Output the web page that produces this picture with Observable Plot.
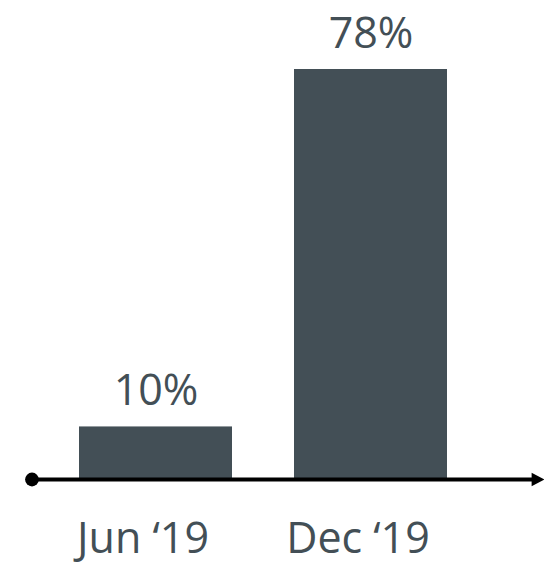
<!DOCTYPE html>
<html>
<head>
<meta charset="utf-8">
<script src="https://cdn.jsdelivr.net/npm/d3@7"></script>
<script src="https://cdn.jsdelivr.net/npm/@observablehq/plot@0.6"></script>
<style>
  html, body { margin: 0; padding: 0; background: #fff; }
  #chart svg { display: block; overflow: visible; }
</style>
</head>
<body>
<div id="chart"></div>
<script>
const periods = ["Jun \u201819", "Dec \u201819"];
const shares = [10, 78];
const labels = ["10%", "78%"];

const data = periods.map((p, i) => ({period: p, value: shares[i], label: labels[i]}));

const ink = "#434f56";

function arrowHead(color) {
  const m = d3.create("svg:marker")
    .attr("viewBox", "-5 -5 10 10")
    .attr("markerWidth", 4)
    .attr("markerHeight", 4)
    .attr("refX", 1)
    .attr("orient", "auto")
    .attr("fill", color)
    .attr("stroke", "none");
  m.append("path").attr("d", "M-3,-4.2L5,0L-3,4.2Z");
  return m.node();
}

function startDot(color) {
  const m = d3.create("svg:marker")
    .attr("viewBox", "-5 -5 10 10")
    .attr("markerWidth", 4)
    .attr("markerHeight", 4)
    .attr("orient", "auto")
    .attr("fill", color)
    .attr("stroke", "none");
  m.append("circle").attr("r", 4.3);
  return m.node();
}

const chart = Plot.plot({
  width: 547,
  height: 566,
  marginTop: 69,
  marginBottom: 87,
  marginLeft: 32,
  marginRight: 9,
  style: {fontFamily: "'Open Sans', sans-serif", background: "#fff", overflow: "visible"},
  x: {domain: periods, range: [78, 448], paddingInner: 0.287, paddingOuter: 0},
  y: {domain: [0, 78], axis: null},
  marks: [
    Plot.barY(data, {x: "period", y: "value", fill: ink}),
    Plot.text(data, {x: "period", y: "value", text: "label", dy: -22, lineAnchor: "bottom", fontSize: 43, fill: ink}),
    Plot.ruleY([0], {stroke: "#000", strokeWidth: 4, markerStart: startDot, markerEnd: arrowHead}),
    Plot.axisX({tickSize: 0, tickPadding: 43, fontSize: 43, fill: ink, label: null, lineAnchor: "top", dx: -13})
  ]
});
document.getElementById("chart").append(chart);
</script>
</body>
</html>
